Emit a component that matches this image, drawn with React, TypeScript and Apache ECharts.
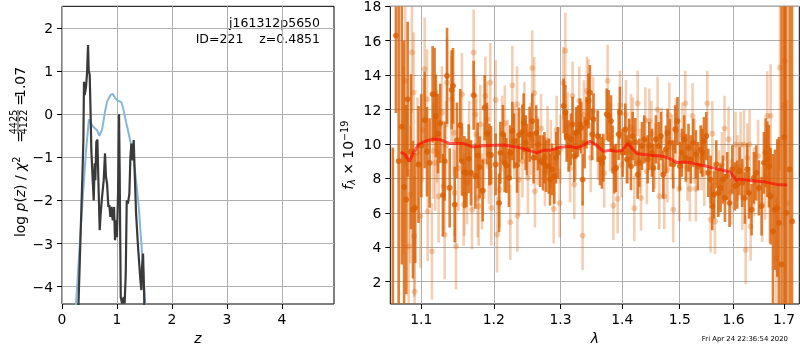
import React, { useEffect, useRef } from "react";
import * as echarts from "echarts";

// ---------- left panel: log p(z) ----------
const zBlue = [0.20, 0.255, 0.364, 0.437, 0.49, 0.52, 0.56, 0.60, 0.64, 0.68, 0.73, 0.777, 0.82, 0.88, 0.923, 0.97, 1.02, 1.08, 1.12, 1.166, 1.214, 1.263, 1.30, 1.35, 1.40, 1.45, 1.50, 1.56];
const logpBlue = [-5.5, -4.4, -2.2, -0.85, -0.12, -0.2, -0.28, -0.33, -0.38, -0.5, -0.36, 0.02, 0.29, 0.44, 0.47, 0.37, 0.31, 0.28, 0.1, -0.18, -0.45, -0.75, -1.0, -1.55, -2.2, -3.1, -4.1, -5.3];

const zBlack = [0.27, 0.30, 0.376, 0.389, 0.40, 0.413, 0.437, 0.455, 0.474, 0.486, 0.504, 0.522, 0.534, 0.559, 0.577, 0.595, 0.607, 0.625, 0.644, 0.662, 0.686, 0.704, 0.729, 0.759, 0.783, 0.80, 0.82, 0.844, 0.862, 0.88, 0.899, 0.923, 0.947, 0.965, 0.984, 1.00, 1.02, 1.038, 1.05, 1.069, 1.093, 1.123, 1.14, 1.16, 1.178, 1.20, 1.226, 1.245, 1.263, 1.287, 1.305, 1.324, 1.348, 1.384, 1.427, 1.445, 1.457, 1.475, 1.494, 1.52];
const logpBlack = [-6.5, -4.4, -1.22, -0.6, 0.75, 0.44, 0.63, 0.94, 1.60, 1.02, 0.91, -0.06, -0.84, -1.53, -2.0, -1.14, -1.53, -0.64, -0.59, -1.53, -2.69, -2.30, -1.92, -1.53, -0.91, -1.45, -1.61, -2.15, -2.11, -2.38, -2.15, -2.46, -2.15, -2.92, -2.46, -2.85, -1.84, 0.0, -1.38, -4.24, -4.39, -4.24, -4.39, -3.70, -2.0, -2.07, -1.84, -0.99, -0.68, -1.07, -0.60, -1.38, -2.30, -3.08, -3.85, -4.08, -3.54, -3.23, -4.16, -6.0];

const leftXTicks = [0, 1, 2, 3, 4];
const leftYTicks = [-4, -3, -2, -1, 0, 1, 2];

// ---------- right panel: spectrum ----------
const lamModel = [1.073, 1.0787, 1.0843, 1.0894, 1.096, 1.1049, 1.1159, 1.125, 1.1386, 1.1569, 1.1708, 1.185, 1.2, 1.2137, 1.2334, 1.2483, 1.2634, 1.2734, 1.2838, 1.2997, 1.315, 1.3255, 1.336, 1.347, 1.3577, 1.3686, 1.3796, 1.3907, 1.4, 1.4092, 1.416, 1.4245, 1.4475, 1.4708, 1.4826, 1.4945, 1.5125, 1.5308, 1.5493, 1.568, 1.5933, 1.6, 1.6057, 1.611, 1.632, 1.6583, 1.685, 1.7067];
const fluxModel = [9.53, 9.38, 8.99, 9.44, 9.96, 10.16, 10.29, 10.25, 10.02, 10.02, 9.83, 9.9, 9.92, 9.94, 9.83, 9.67, 9.48, 9.63, 9.63, 9.81, 9.86, 9.77, 9.92, 10.16, 9.92, 9.57, 9.63, 9.57, 9.63, 10.02, 9.77, 9.44, 9.34, 9.28, 9.13, 8.93, 8.95, 8.83, 8.7, 8.56, 8.37, 8.12, 7.86, 7.96, 7.88, 7.81, 7.65, 7.61];

// [wavelength, flux, error]
const darkPoints = [
  [1.0630, 0.3, 9.5], [1.0670, 16.3, 4.5], [1.0705, 9.0, 10.0], [1.0745, 11.0, 8.0], [1.0775, 7.5, 8.5],
  [1.0804, 6.77, 5.5], [1.0821, 12.6, 4.5], [1.0864, 9.55, 4.5], [1.0890, 6.18, 4.0], [1.0920, 6.28, 3.2],
  [1.0963, 8.81, 3.4], [1.1000, 9.9, 3.0], [1.1044, 11.39, 2.8], [1.1075, 9.55, 2.6], [1.1110, 8.9, 2.6],
  [1.1150, 12.89, 2.8], [1.1177, 12.89, 2.7], [1.1195, 11.63, 2.4], [1.1222, 10.6, 2.3], [1.1253, 11.2, 2.3],
  [1.1289, 7.02, 2.4], [1.1312, 9.0, 2.3], [1.1345, 13.96, 2.8], [1.1381, 7.45, 2.3], [1.1408, 13.14, 2.3],
  [1.1427, 13.38, 2.2], [1.1450, 6.48, 2.2], [1.1481, 10.21, 2.2], [1.1527, 11.1, 2.1], [1.1550, 9.0, 2.0],
  [1.1583, 8.36, 2.1], [1.1611, 8.32, 2.0], [1.1643, 9.14, 2.0], [1.1676, 8.32, 1.9], [1.1713, 12.83, 2.0],
  [1.1737, 8.13, 1.9], [1.1770, 9.33, 1.9], [1.1798, 8.65, 1.8], [1.1841, 7.29, 1.8], [1.1869, 12.11, 1.9],
  [1.1903, 10.6, 1.8], [1.1936, 9.39, 1.8], [1.1960, 9.35, 1.7],
  [1.2027, 8.81, 1.8], [1.2076, 6.57, 1.7], [1.2095, 9.49, 1.8], [1.2133, 10.56, 1.7], [1.2157, 8.9, 1.7],
  [1.2182, 8.75, 1.6], [1.2220, 8.03, 1.7], [1.2240, 9.49, 1.6], [1.2270, 10.75, 1.7], [1.2295, 10.17, 1.6],
  [1.2339, 8.77, 1.6], [1.2369, 10.52, 1.6], [1.2418, 10.69, 1.6], [1.2438, 11.24, 1.7], [1.2468, 10.07, 1.6],
  [1.2487, 9.68, 1.5], [1.2527, 10.56, 1.6], [1.2567, 11.33, 1.6], [1.2587, 9.2, 1.5], [1.2627, 10.65, 1.6],
  [1.2652, 9.97, 1.5], [1.2687, 9.0, 1.5], [1.2730, 8.9, 1.6], [1.2752, 9.2, 1.5], [1.2777, 8.71, 1.5],
  [1.2818, 8.71, 1.6], [1.2838, 7.93, 1.5], [1.2869, 8.52, 1.5], [1.2904, 8.13, 1.6], [1.2930, 9.2, 1.5],
  [1.2961, 9.49, 1.5], [1.3050, 12.21, 1.6], [1.3076, 11.82, 1.6], [1.3096, 10.46, 1.5], [1.3128, 9.88, 1.5],
  [1.3164, 10.27, 1.5], [1.3190, 11.14, 1.6], [1.3217, 9.29, 1.5], [1.3250, 10.65, 1.5], [1.3276, 10.75, 1.5],
  [1.3308, 11.14, 1.5], [1.3329, 10.95, 1.5], [1.3350, 7.93, 1.5], [1.3382, 10.07, 1.5], [1.3413, 11.24, 1.5],
  [1.3445, 12.5, 1.6], [1.3467, 12.99, 1.6], [1.3505, 10.56, 1.5], [1.3526, 11.43, 1.5],
  [1.3593, 10.46, 1.5], [1.3631, 9.1, 1.5], [1.3664, 8.9, 1.5], [1.3686, 9.2, 1.4], [1.3741, 11.72, 1.5],
  [1.3774, 11.63, 1.5], [1.3813, 11.33, 1.5], [1.3840, 9.68, 1.4], [1.3868, 8.52, 1.4], [1.3895, 8.61, 1.4],
  [1.3940, 10.56, 1.5], [1.3962, 11.82, 1.5], [1.4007, 9.49, 1.4], [1.4052, 10.85, 1.5], [1.4080, 9.1, 1.4],
  [1.4120, 10.07, 1.4], [1.4148, 8.71, 1.4], [1.4176, 10.46, 1.4], [1.4222, 10.11, 1.4], [1.4262, 8.22, 1.4],
  [1.4290, 8.9, 1.4], [1.4336, 9.88, 1.4], [1.4376, 10.27, 1.4], [1.4434, 9.1, 1.4], [1.4462, 9.88, 1.4],
  [1.4509, 9.49, 1.4], [1.4532, 8.61, 1.4], [1.4578, 10.27, 1.4], [1.4625, 9.88, 1.4], [1.4666, 10.46, 1.4],
  [1.4707, 8.22, 1.4], [1.4754, 9.68, 1.4], [1.4784, 10.65, 1.4], [1.4825, 10.07, 1.4], [1.4884, 8.81, 1.4],
  [1.4920, 10.85, 1.4], [1.4961, 11.33, 1.4], [1.5003, 8.71, 1.4], [1.5039, 9.49, 1.4], [1.5081, 10.27, 1.4],
  [1.5111, 9.2, 1.4], [1.5160, 9.78, 1.4], [1.5202, 9.1, 1.4], [1.5245, 10.07, 1.4], [1.5295, 9.39, 1.4],
  [1.5332, 8.71, 1.4],
  [1.5382, 9.68, 1.4], [1.5413, 9.49, 1.4], [1.5443, 10.17, 1.4], [1.5487, 10.46, 1.4], [1.5524, 8.32, 1.4],
  [1.5567, 7.93, 1.4], [1.5598, 6.38, 1.4], [1.5630, 7.06, 1.4], [1.5674, 8.81, 1.4], [1.5711, 7.16, 1.4],
  [1.5755, 7.45, 1.4], [1.5799, 7.93, 1.4], [1.5837, 6.86, 1.4], [1.5881, 8.13, 1.4], [1.5925, 6.57, 1.4],
  [1.5977, 8.52, 1.4], [1.6027, 7.54, 1.4], [1.6073, 7.64, 1.4], [1.6117, 8.42, 1.4], [1.6169, 7.74, 1.4],
  [1.6221, 6.86, 1.5], [1.6266, 8.52, 1.5], [1.6300, 7.16, 1.5], [1.6352, 6.18, 1.5], [1.6398, 8.03, 1.5],
  [1.6443, 8.32, 1.6], [1.6496, 7.45, 1.6], [1.6550, 6.38, 1.7], [1.6596, 8.9, 1.8], [1.6629, 9.49, 2.0],
  [1.6663, 9.1, 2.2], [1.6696, 8.71, 2.4], [1.6730, 6.96, 2.8], [1.6777, 4.92, 4.5], [1.6817, 6.18, 3.5],
  [1.6864, 6.28, 4.0], [1.6898, 5.41, 5.0], [1.6952, 3.0, 16.0], [1.7007, 10.4, 10.0], [1.7048, 6.0, 14.0],
  [1.7116, 8.52, 12.0], [1.7165, 5.5, 14.0]
];

const lightPoints = [
  [1.0769, 9.06, 5.5], [1.0790, 13.67, 5.0], [1.0834, 4.05, 4.5], [1.0855, 7.06, 4.0], [1.0877, 15.32, 3.5],
  [1.0899, 12.99, 3.5], [1.0907, 4.63, 3.5], [1.0912, 1.42, 3.2], [1.0950, 9.5, 3.2], [1.0987, 5.8, 3.0],
  [1.1020, 10.8, 3.0], [1.1044, 14.35, 3.0], [1.1075, 12.6, 2.9], [1.1084, 6.09, 2.9], [1.1141, 3.75, 2.8],
  [1.1160, 9.6, 2.8], [1.1186, 8.9, 2.8], [1.1209, 10.46, 2.7], [1.1231, 6.96, 2.7], [1.1276, 11.82, 2.7],
  [1.1299, 7.54, 2.6], [1.1313, 4.73, 2.6], [1.1330, 9.9, 2.6], [1.1345, 13.57, 2.6], [1.1404, 12.6, 2.5],
  [1.1436, 10.65, 2.5], [1.1450, 7.16, 2.5], [1.1468, 4.05, 2.5], [1.1500, 8.6, 2.5], [1.1550, 12.89, 2.4],
  [1.1573, 6.48, 2.4], [1.1583, 7.06, 2.4], [1.1620, 7.74, 2.4], [1.1650, 10.1, 2.4], [1.1690, 6.18, 2.3],
  [1.1713, 15.32, 2.5], [1.1737, 11.72, 2.3], [1.1751, 10.56, 2.3], [1.1770, 6.86, 2.3], [1.1784, 6.38, 2.3],
  [1.1808, 11.14, 2.3], [1.1831, 7.25, 2.2], [1.1860, 9.0, 2.2], [1.1879, 12.79, 2.3], [1.1903, 11.43, 2.2],
  [1.1930, 8.7, 2.2], [1.1950, 13.57, 2.3], [1.1964, 6.28, 2.2],
  [1.2027, 12.56, 2.3], [1.2047, 4.73, 2.2], [1.2085, 7.35, 2.2], [1.2120, 10.6, 2.2], [1.2160, 11.2, 2.2],
  [1.2200, 9.3, 2.1], [1.2240, 5.45, 2.2], [1.2270, 13.41, 2.3], [1.2300, 10.1, 2.1], [1.2339, 12.31, 2.2],
  [1.2344, 5.83, 2.1], [1.2369, 7.93, 2.1], [1.2420, 9.0, 2.1], [1.2450, 11.5, 2.1], [1.2502, 8.03, 2.1],
  [1.2540, 10.3, 2.1], [1.2567, 14.41, 2.2], [1.2597, 12.95, 2.1], [1.2607, 7.25, 2.1], [1.2650, 9.6, 2.0],
  [1.2700, 10.9, 2.0], [1.2760, 8.4, 2.0], [1.2800, 10.2, 2.0], [1.2850, 9.4, 2.0], [1.2894, 6.22, 2.0],
  [1.2940, 10.8, 2.0], [1.2987, 6.57, 2.0], [1.3000, 9.7, 2.0], [1.3045, 13.53, 2.1], [1.3076, 15.42, 2.2],
  [1.3110, 11.0, 2.0], [1.3150, 8.6, 2.0], [1.3190, 12.79, 2.0], [1.3217, 7.64, 2.0], [1.3240, 9.9, 2.0],
  [1.3296, 12.5, 2.0], [1.3350, 4.67, 2.0], [1.3370, 11.7, 2.0], [1.3419, 13.08, 2.0], [1.3445, 12.93, 2.0],
  [1.3480, 9.2, 2.0], [1.3520, 11.9, 2.0],
  [1.3600, 9.9, 2.0], [1.3700, 8.3, 2.0], [1.3757, 13.67, 2.1], [1.3800, 10.4, 2.0], [1.3851, 6.42, 2.0],
  [1.3923, 6.81, 2.0], [1.3962, 12.25, 2.0], [1.3990, 8.8, 1.9], [1.4063, 11.72, 2.0], [1.4100, 9.6, 1.9],
  [1.4148, 11.0, 1.9], [1.4180, 10.8, 1.9], [1.4205, 6.26, 1.9], [1.4262, 12.36, 1.9], [1.4300, 9.0, 1.9],
  [1.4319, 6.86, 1.9], [1.4394, 11.39, 1.9], [1.4420, 8.4, 1.9], [1.4462, 11.33, 1.9], [1.4500, 10.6, 1.9],
  [1.4560, 9.3, 1.9], [1.4607, 12.0, 1.9], [1.4637, 6.96, 1.9], [1.4680, 10.2, 1.9], [1.4725, 6.96, 1.9],
  [1.4780, 8.5, 1.9], [1.4814, 11.67, 1.9], [1.4860, 9.8, 1.9], [1.4884, 6.18, 1.9], [1.4932, 10.75, 1.9],
  [1.4992, 7.39, 1.9], [1.5050, 10.5, 1.9], [1.5100, 12.36, 1.9], [1.5140, 8.6, 1.9], [1.5185, 7.39, 1.9],
  [1.5234, 11.63, 1.9], [1.5270, 9.6, 1.9], [1.5295, 7.39, 1.9],
  [1.5400, 9.2, 1.9], [1.5450, 8.3, 1.9], [1.5505, 12.36, 1.9], [1.5567, 5.6, 1.9], [1.5600, 10.6, 1.9],
  [1.5649, 5.5, 1.9], [1.5724, 7.74, 1.9], [1.5780, 8.8, 1.9], [1.5830, 10.9, 1.9], [1.5907, 10.27, 1.9],
  [1.5960, 7.2, 1.9], [1.6040, 9.97, 1.9], [1.6080, 8.6, 1.9], [1.6138, 9.97, 1.9], [1.6170, 6.9, 1.9],
  [1.6204, 9.97, 2.0], [1.6236, 3.85, 2.0], [1.6270, 9.2, 2.0], [1.6313, 9.97, 2.0], [1.6333, 5.21, 2.0],
  [1.6400, 7.8, 2.0], [1.6480, 9.3, 2.1], [1.6560, 6.5, 2.2], [1.6620, 8.0, 2.4], [1.6663, 11.63, 2.6],
  [1.6709, 7.06, 2.8], [1.6730, 11.63, 3.0], [1.6845, 3.37, 3.5], [1.6918, 14.44, 6.0], [1.6999, 12.25, 7.0],
  [1.7019, 14.83, 8.0], [1.7067, 6.57, 6.0]
];

const rightXTicks = [1.1, 1.2, 1.3, 1.4, 1.5, 1.6, 1.7];
const rightYTicks = [2, 4, 6, 8, 10, 12, 14, 16, 18];

const F = "DejaVu Sans";
const FS = 13.9;
const FSS = 9.7;
const RY_MIN = 0.7;
const RY_MAX = 18;
const ORANGE = "#d95f02";

const minusFmt = (v: number) => (v < 0 ? "\u2212" + Math.abs(v) : String(v));

function errRender(opacity: number, lw: number, r: number) {
  return (params: any, api: any) => {
    const x = api.value(0);
    const y = api.value(1);
    const e = api.value(2);
    const top = api.coord([x, Math.min(y + e, RY_MAX)]);
    const bot = api.coord([x, Math.max(y - e, RY_MIN)]);
    const c = api.coord([x, y]);
    const children: any[] = [
      {
        type: "line",
        shape: { x1: top[0], y1: top[1], x2: bot[0], y2: bot[1] },
        style: { stroke: ORANGE, lineWidth: lw, opacity },
      },
    ];
    if (y >= RY_MIN && y <= RY_MAX) {
      children.push({
        type: "circle",
        shape: { cx: c[0], cy: c[1], r },
        style: { fill: ORANGE, opacity },
      });
    }
    return { type: "group", children };
  };
}

const axisLabelBase = { fontFamily: F, fontSize: FS, color: "#000" };
const tickBase = { show: true, length: 5, inside: false, lineStyle: { color: "#000", width: 1 } };
const splitBase = { show: true, lineStyle: { color: "#b0b0b0", width: 1 } };
const noLine = { show: false, onZero: false };
const txt = (text: string, x: number, y: number, size: number, align: string, extra: any = {}) => ({
  type: "text", x, y,
  style: { text, fontFamily: F, fontSize: size, fill: "#000", align, verticalAlign: "middle", ...extra },
});

export default function App() {
  const ref = useRef<HTMLDivElement>(null);
  useEffect(() => {
    if (!ref.current) return;
    const chart = echarts.init(ref.current, null, { renderer: "svg" });
    const lnX = rightXTicks.map((v) => Math.log(v));
    const option: any = {
      animation: false,
      grid: [
        { left: 62, top: 6.3, width: 272, height: 297.7, show: true, borderColor: "#000", borderWidth: 1, backgroundColor: "transparent", outerBoundsMode: "none", containLabel: false },
        { left: 390.3, top: 6.3, width: 409, height: 297.7, show: true, borderColor: "#000", borderWidth: 1, backgroundColor: "transparent", outerBoundsMode: "none", containLabel: false },
      ],
      xAxis: [
        {
          type: "value", gridIndex: 0, min: 0, max: 4.95,
          name: "z", nameLocation: "middle", nameGap: 27, nameMoveOverlap: false,
          nameTextStyle: { fontFamily: F, fontSize: FS, fontStyle: "italic", color: "#000" },
          axisLine: noLine,
          axisTick: { ...tickBase, customValues: leftXTicks },
          axisLabel: { ...axisLabelBase, margin: 8, customValues: leftXTicks, formatter: minusFmt },
          splitLine: splitBase,
        },
        {
          type: "value", gridIndex: 1, min: Math.log(1.0598), max: Math.log(1.7316),
          name: "\u03bb", nameLocation: "middle", nameGap: 27, nameMoveOverlap: false,
          nameTextStyle: { fontFamily: F, fontSize: FS, fontStyle: "italic", color: "#000" },
          axisLine: noLine,
          axisTick: { ...tickBase, customValues: lnX },
          axisLabel: { ...axisLabelBase, margin: 8, customValues: lnX, formatter: (v: number) => Math.exp(v).toFixed(1) },
          splitLine: splitBase,
        },
      ],
      yAxis: [
        {
          type: "value", gridIndex: 0, min: -4.4, max: 2.5,
          axisLine: noLine,
          axisTick: { ...tickBase, customValues: leftYTicks },
          axisLabel: { ...axisLabelBase, margin: 9, customValues: leftYTicks, formatter: minusFmt },
          splitLine: splitBase,
        },
        {
          type: "value", gridIndex: 1, min: RY_MIN, max: RY_MAX,
          name: "{i|f}{sub|\u03bb} \u00d7 10{sup|\u221219}",
          nameLocation: "middle", nameGap: 34, nameRotate: 90, nameMoveOverlap: false,
          nameTextStyle: {
            fontFamily: F, fontSize: FS, color: "#000",
            rich: {
              i: { fontFamily: F, fontSize: FS, fontStyle: "italic", color: "#000" },
              sub: { fontFamily: F, fontSize: FSS, fontStyle: "italic", color: "#000", verticalAlign: "bottom", padding: [6, 0, 0, 0] },
              sup: { fontFamily: F, fontSize: FSS, color: "#000", verticalAlign: "top", padding: [0, 0, 7, 0] },
            },
          },
          axisLine: noLine,
          axisTick: { ...tickBase, customValues: rightYTicks },
          axisLabel: { ...axisLabelBase, margin: 9, customValues: rightYTicks },
          splitLine: splitBase,
        },
      ],
      series: [
        {
          type: "line", xAxisIndex: 0, yAxisIndex: 0, showSymbol: false, clip: true,
          data: zBlue.map((z, i) => [z, logpBlue[i]]),
          lineStyle: { color: "#86b6da", width: 2 },
        },
        {
          type: "line", xAxisIndex: 0, yAxisIndex: 0, showSymbol: false, clip: true,
          data: zBlack.map((z, i) => [z, logpBlack[i]]),
          lineStyle: { color: "#3a3a3a", width: 2.2 },
        },
        {
          type: "custom", xAxisIndex: 1, yAxisIndex: 1, clip: true,
          renderItem: errRender(0.3, 2.6, 3),
          encode: { x: 0, y: 1 },
          data: lightPoints.map((p) => [Math.log(p[0]), p[1], p[2]]),
        },
        {
          type: "custom", xAxisIndex: 1, yAxisIndex: 1, clip: true,
          renderItem: errRender(0.8, 2.6, 3),
          encode: { x: 0, y: 1 },
          data: darkPoints.map((p) => [Math.log(p[0]), p[1], p[2]]),
        },
        {
          type: "line", xAxisIndex: 1, yAxisIndex: 1, showSymbol: false, clip: true,
          data: lamModel.map((l, i) => [Math.log(l), fluxModel[i]]),
          lineStyle: { color: "#ff0000", width: 3, opacity: 0.6 },
        },
      ],
      graphic: [
        txt("j161312p5650", 320, 22, 12.5, "right"),
        txt("ID=221    z=0.4851", 320, 38, 12.5, "right"),
        txt("Fri Apr 24 22:36:54 2020", 788, 339, 6.9, "right"),
        {
          type: "group", x: 19.5, y: 152, rotation: Math.PI / 2,
          children: [
            txt("log {i|p}({i|z}) / {i|\u03c7}{sup|2}", -85, 0, FS, "left", {
              rich: {
                i: { fontFamily: F, fontSize: FS, fontStyle: "italic", fill: "#000" },
                sup: { fontFamily: F, fontSize: FSS, fill: "#000", verticalAlign: "top", padding: [0, 0, 7, 0] },
              },
            }),
            txt("=", 15, 0, FS, "center"),
            txt("4425", 30, -6.5, FSS, "center"),
            { type: "line", shape: { x1: 18, y1: -1.5, x2: 42, y2: -1.5 }, style: { stroke: "#000", lineWidth: 0.8 } },
            txt("4122", 30, 4, FSS, "center"),
            txt("=", 52, 0, FS, "center"),
            txt("1.07", 85, 0, FS, "right"),
          ],
        },
      ],
    };
    chart.setOption(option);
    return () => chart.dispose();
  }, []);
  return <div ref={ref} style={{ position: "fixed", left: 0, top: 0, width: 800, height: 350 }} />;
}
